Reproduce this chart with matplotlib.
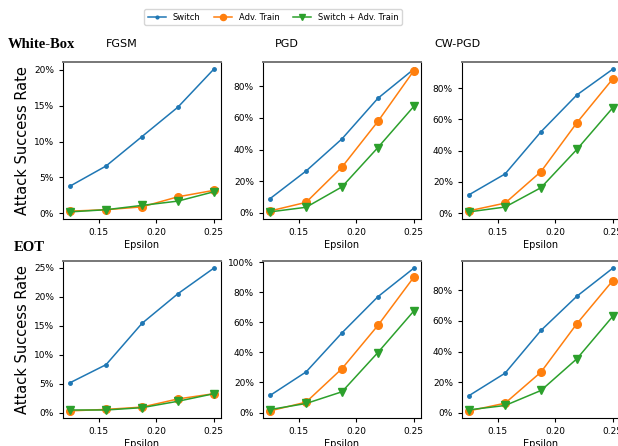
import matplotlib
matplotlib.use('Agg')
import matplotlib.pyplot as plt
from matplotlib.ticker import PercentFormatter

# epsilon = 4/32 ... 8/32
eps = [0.125, 0.15625, 0.1875, 0.21875, 0.25]

# white-box attack success rate (%)
wb_fgsm_switch = [3.8, 6.6, 10.7, 14.8, 20.1]
wb_fgsm_adv = [0.3, 0.5, 0.9, 2.3, 3.2]
wb_fgsm_both = [0.2, 0.5, 1.1, 1.7, 3.0]

wb_pgd_switch = [9.1, 26.5, 46.8, 72.4, 90.8]
wb_pgd_adv = [1.3, 6.7, 29.0, 57.8, 89.8]
wb_pgd_both = [0.7, 3.6, 16.5, 41.3, 67.3]

wb_cw_switch = [11.8, 25.1, 52.1, 75.7, 92.2]
wb_cw_adv = [1.5, 6.4, 26.6, 57.9, 86.0]
wb_cw_both = [0.8, 3.9, 16.3, 40.8, 67.5]

# EOT attack success rate (%)
eot_fgsm_switch = [5.2, 8.3, 15.4, 20.5, 24.9]
eot_fgsm_adv = [0.35, 0.6, 1.0, 2.4, 3.3]
eot_fgsm_both = [0.5, 0.5, 0.9, 2.0, 3.3]

eot_pgd_switch = [11.4, 27.0, 53.0, 77.0, 96.0]
eot_pgd_adv = [1.1, 6.9, 29.2, 57.9, 90.0]
eot_pgd_both = [2.0, 6.0, 13.8, 39.9, 67.5]

eot_cw_switch = [11.3, 25.9, 53.8, 76.1, 94.4]
eot_cw_adv = [1.3, 6.3, 26.6, 58.2, 86.3]
eot_cw_both = [2.0, 4.8, 14.6, 35.3, 63.0]

labels = ['Switch', 'Adv. Train', 'Switch + Adv. Train']
titles = ['FGSM', 'PGD', 'CW-PGD']

rows = [
    [(wb_fgsm_switch, wb_fgsm_adv, wb_fgsm_both),
     (wb_pgd_switch, wb_pgd_adv, wb_pgd_both),
     (wb_cw_switch, wb_cw_adv, wb_cw_both)],
    [(eot_fgsm_switch, eot_fgsm_adv, eot_fgsm_both),
     (eot_pgd_switch, eot_pgd_adv, eot_pgd_both),
     (eot_cw_switch, eot_cw_adv, eot_cw_both)],
]

W, H = 618, 446
fig = plt.figure(figsize=(W / 100, H / 100), dpi=100)

lefts = [63, 263, 462]
tops = [62, 261]
aw, ah = 158, 157

handles = None
for r, row in enumerate(rows):
    for c, (s1, s2, s3) in enumerate(row):
        ax = fig.add_axes([lefts[c] / W, 1 - (tops[r] + ah) / H, aw / W, ah / H])
        h1, = ax.plot(eps, s1, marker='.', ms=5, lw=1.1, color='#1f77b4')
        h2, = ax.plot(eps, s2, marker='o', ms=5.5, lw=1.1, color='#ff7f0e')
        h3, = ax.plot(eps, s3, marker='v', ms=5.5, lw=1.1, color='#2ca02c')
        handles = [h1, h2, h3]
        ax.yaxis.set_major_formatter(PercentFormatter(100, decimals=0))
        ax.set_xticks([0.15, 0.20, 0.25])
        ax.set_xticklabels(['0.15', '0.20', '0.25'])
        ax.tick_params(labelsize=6.5, length=3, width=0.8)
        ax.set_xlabel('Epsilon', fontsize=7, labelpad=2)
        ax.spines['top'].set_color('#777777')
        ax.spines['top'].set_linewidth(1.4)
        if c == 0:
            ax.set_ylabel('Attack Success Rate', fontsize=10.5, labelpad=3)

fig.legend(handles, labels, loc='center', bbox_to_anchor=(273 / W, 1 - 17 / H),
           ncol=3, fontsize=6, frameon=True, edgecolor='#cccccc', fancybox=True,
           handlelength=2.2, columnspacing=1.6, markerscale=0.8)

fig.text(41 / W, 1 - 44 / H, 'White-Box', family='Liberation Serif', weight='bold',
         fontsize=10.5, ha='center', va='center')
fig.text(29 / W, 1 - 247 / H, 'EOT', family='Liberation Serif', weight='bold',
         fontsize=10.5, ha='center', va='center')
for x, t in zip([122, 287, 457], titles):
    fig.text(x / W, 1 - 44 / H, t, fontsize=8, ha='center', va='center')

fig.savefig('out.png', dpi=100)
